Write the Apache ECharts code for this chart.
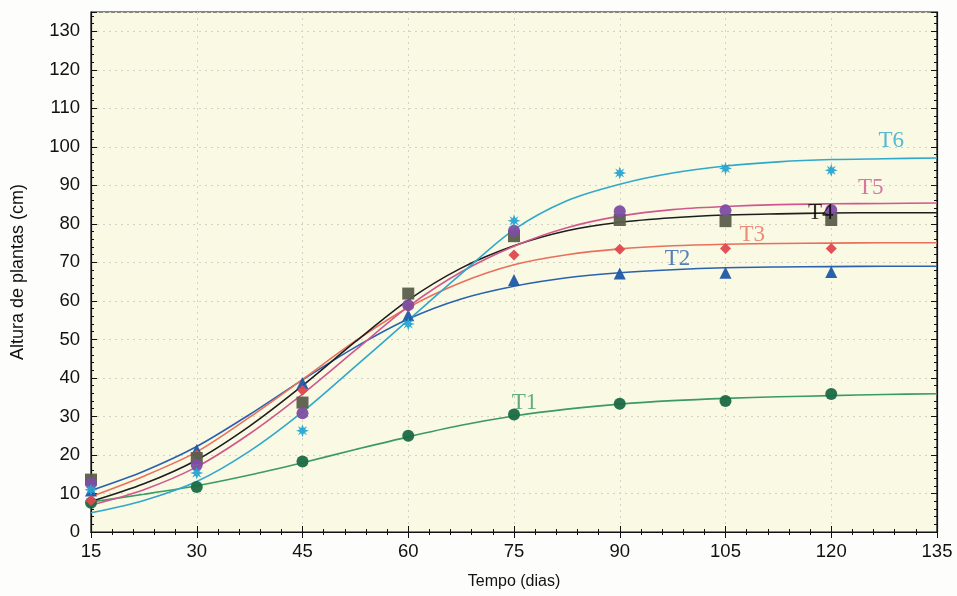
<!DOCTYPE html>
<html><head><meta charset="utf-8">
<script src="https://cdn.jsdelivr.net/npm/echarts@6/dist/echarts.min.js"></script>
<style>html,body{margin:0;padding:0;background:#fdfdfb}#c{width:957px;height:596px}</style>
</head><body><div id="c"></div>
<script>
// Observation days
const days = [15, 30, 45, 60, 75, 90, 105, 120];
// Observed plant heights (cm)
const obsT1 = [7.6, 11.7, 18.3, 25.0, 30.5, 33.3, 34.0, 35.8];
const obsT2 = [10.8, 21.3, 38.7, 56.3, 65.4, 67.1, 67.3, 67.5];
const obsT3 = [8.2, 20.0, 36.8, 58.5, 71.9, 73.4, 73.6, 73.6];
const obsT4 = [13.6, 19.2, 33.6, 61.9, 76.8, 81.0, 80.7, 81.0];
const obsT5 = [12.6, 17.4, 30.8, 58.9, 78.2, 83.3, 83.5, 83.6];
const obsT6 = [11.0, 15.3, 26.3, 54.0, 80.8, 93.2, 94.4, 93.9];
// Fitted curves
const fitDays = [15, 22.5, 30, 37.5, 45, 52.5, 60, 67.5, 75, 82.5, 90, 97.5, 105, 112.5, 120, 127.5, 135];
const fitT1 = [7.8, 9.8, 12.0, 14.8, 18.0, 21.4, 24.7, 27.7, 30.1, 31.9, 33.2, 34.1, 34.7, 35.1, 35.4, 35.7, 35.9];
const fitT2 = [10.8, 15.8, 22.2, 30.5, 39.5, 48.0, 55.3, 60.5, 63.8, 66.0, 67.3, 68.1, 68.6, 68.8, 68.9, 69.0, 69.0];
const fitT3 = [9.2, 14.5, 20.8, 29.8, 39.6, 49.6, 58.3, 64.8, 69.4, 72.0, 73.5, 74.3, 74.7, 74.9, 75.0, 75.1, 75.1];
const fitT4 = [7.9, 12.5, 18.7, 27.5, 38.0, 49.4, 60.2, 68.5, 74.3, 78.2, 80.4, 81.6, 82.3, 82.6, 82.8, 82.9, 82.9];
const fitT5 = [7.0, 11.0, 16.9, 25.5, 35.8, 47.2, 58.5, 67.5, 74.2, 79.0, 82.0, 83.7, 84.5, 85.0, 85.2, 85.3, 85.4];
const fitT6 = [5.0, 8.2, 13.1, 21.0, 31.2, 43.0, 55.0, 67.0, 78.5, 86.0, 90.3, 93.2, 95.0, 96.1, 96.7, 96.9, 97.1];
// Treatment labels and their anchor points (data units)
const names = ['T1', 'T2', 'T3', 'T4', 'T5', 'T6'];
const labelX = [76.5, 98.2, 108.8, 118.5, 125.6, 128.5];
const labelY = [33.6, 71.0, 77.0, 82.8, 89.3, 101.6];
// Y tick labels
const yTicks = [0, 10, 20, 30, 40, 50, 60, 70, 80, 90, 100, 110, 120, 130];

const lineColors = ['#3c9a62', '#2a62ae', '#e8705c', '#1e1e1e', '#d0588e', '#2fa8ca'];
const markColors = ['#1b6a44', '#1f58a8', '#e0484e', '#5c5e4c', '#7d4ea2', '#25a4d2'];
const star = 'path://M0,-10 L2,-4 L7,-7 L4,-2 L10,0 L4,2 L7,7 L2,4 L0,10 L-2,4 L-7,7 L-4,2 L-10,0 L-4,-2 L-7,-7 L-2,-4 Z';
const symbols = ['circle', 'triangle', 'diamond', 'rect', 'circle', star];
const symSizes = [12, 12, 11, 12, 12, 13];
const obs = [obsT1, obsT2, obsT3, obsT4, obsT5, obsT6];
const fits = [fitT1, fitT2, fitT3, fitT4, fitT5, fitT6];

const series = [];
fits.forEach((f, i) => {
  series.push({
    type: 'line', name: names[i] + ' fit', data: fitDays.map((d, k) => [d, f[k]]),
    smooth: 0.3, showSymbol: false, silent: true,
    lineStyle: { color: lineColors[i], width: 1.6 }, z: 3
  });
});
obs.forEach((o, i) => {
  series.push({
    type: 'scatter', name: names[i], data: days.map((d, k) => [d, o[k]]),
    symbol: symbols[i], symbolSize: symSizes[i],
    itemStyle: { color: markColors[i], opacity: 0.95 }, z: 4
  });
});
series.push({
  type: 'scatter', name: 'labels', symbolSize: 0, silent: true, z: 5,
  data: names.map((n, i) => ({ value: [labelX[i], labelY[i]], name: n,
    label: { color: lineColors[i] === '#1e1e1e' ? '#000' : lineColors[i] } })),
  label: { show: true, position: 'inside', formatter: p => p.name,
    fontFamily: 'Liberation Serif, DejaVu Serif, serif', fontSize: 23 }
});

const chart = echarts.init(document.getElementById('c'));
const common = {
  axisLine: { show: true, lineStyle: { color: '#111', width: 1.2 } },
  axisTick: { show: true, inside: true, length: 6, lineStyle: { color: '#111' } },
  minorTick: { show: true, splitNumber: 5, length: 3, lineStyle: { color: '#111' } }
};
const sans = 'Liberation Sans, Arial, sans-serif';
chart.setOption({
  animation: false,
  backgroundColor: '#fdfdfb',
  grid: { left: 91, right: 20, top: 12, bottom: 64, show: true, backgroundColor: '#f9f9e4', borderColor: '#111', borderWidth: 1.2 },
  xAxis: [{
    type: 'value', min: 15, max: 135, interval: 15,
    name: 'Tempo (dias)', nameLocation: 'middle', nameGap: 42,
    nameTextStyle: { fontFamily: sans, fontSize: 16, color: '#111' },
    axisLabel: { fontFamily: sans, fontSize: 18.5, color: '#111', margin: 10 },
    splitLine: { show: true, lineStyle: { color: '#d2d3c4', type: [2, 4], width: 1 } },
    ...common
  }, {
    type: 'value', position: 'top', min: 15, max: 135, interval: 15,
    axisLabel: { show: false }, splitLine: { show: false }, ...common
  }],
  yAxis: [{
    type: 'value', min: 0, max: 135, interval: 10,
    name: 'Altura de plantas (cm)', nameLocation: 'middle', nameGap: 64,
    nameTextStyle: { fontFamily: sans, fontSize: 18, color: '#111' },
    axisLabel: { fontFamily: sans, fontSize: 18.5, color: '#111', margin: 11,
      formatter: v => yTicks.indexOf(v) >= 0 ? String(v) : '' },
    splitLine: { show: true, lineStyle: { color: '#d2d3c4', type: [2, 4], width: 1 } },
    ...common
  }, {
    type: 'value', position: 'right', min: 0, max: 135, interval: 10,
    axisLabel: { show: false }, splitLine: { show: false }, ...common
  }],
  series: series
});
</script></body></html>
